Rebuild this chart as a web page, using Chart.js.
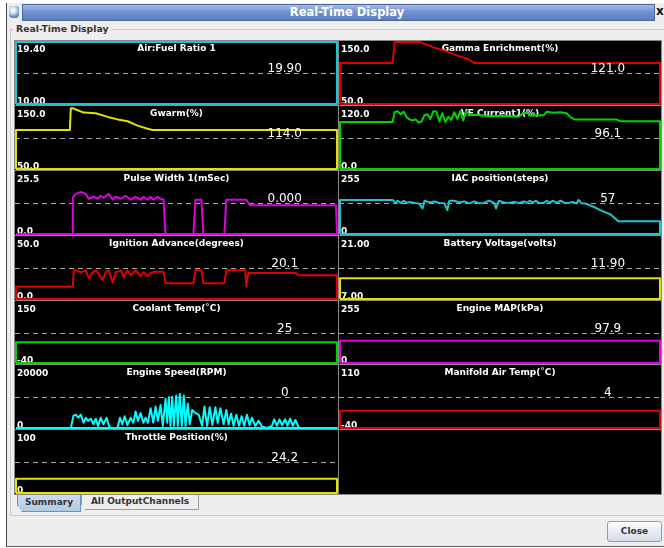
<!DOCTYPE html>
<html><head><meta charset="utf-8"><title>Real-Time Display</title>
<script src="https://cdn.jsdelivr.net/npm/chart.js@4.4.1/dist/chart.umd.min.js"></script>
<style>
html,body{margin:0;padding:0;background:#fff}
body{width:664px;height:548px;position:relative;overflow:hidden;font-family:"DejaVu Sans",sans-serif}
.a{position:absolute;box-sizing:border-box}
#frame{left:6px;top:3px;width:658px;height:544px;background:#eeeeee;border-left:1px solid #404040;border-bottom:1px solid #606060}
#icon{left:9px;top:6px;width:10px;height:12px;border-radius:3px 3px 4px 4px;background:radial-gradient(circle at 40% 35%,#ffffff 0,#c9dbf2 35%,#5f86c4 70%,#3a5c96 100%)}
#tbar{left:22px;top:4px;width:633px;height:17px;background:linear-gradient(#a4bde6,#7093d0 45%,#5a7ec1);border:1px solid #4a679c}
#ttext{left:247px;top:5px;width:200px;text-align:center;color:#fff;font-weight:bold;font-size:11.5px;line-height:15px;white-space:nowrap}
#tx{left:656px;top:4px;color:#111;font-weight:bold;font-size:12px;line-height:15px}
#tborder{left:10px;top:29px;width:660px;height:487px;border:1px solid #c3ccd8}
#plabel{left:14px;top:23px;padding:0 2px;background:#eeeeee;color:#333;font-weight:bold;font-size:9.3px;line-height:12px;white-space:nowrap}
#grid{left:14px;top:40px;width:648px;height:455px;background:#8a8a8a}
.cell{background:#000}
.tab{top:495px;font-weight:bold;font-size:9px;color:#333;text-align:center;white-space:nowrap}
#tab1{left:17px;width:64px;height:17px;line-height:15px;background:linear-gradient(#c9dbef,#b3cbe5);border:1px solid #6f8fc0;border-top:none;clip-path:polygon(0 0,100% 0,100% 100%,5px 100%,0 60%)}
#tab2{left:81px;width:118px;height:15px;line-height:13px;background:#eeeeee;border:1px solid #a0a0a0;border-top:none;clip-path:polygon(0 0,100% 0,100% 100%,4px 100%,0 65%)}
#close{left:607px;top:521px;width:55px;height:21px;border:1px solid #8d9bb0;border-radius:3px;background:linear-gradient(#ffffff,#e6edf4 50%,#d3dde8);font-weight:bold;font-size:9px;color:#333;text-align:center;line-height:19px}
</style></head><body>
<div id="frame" class="a"></div>
<div id="icon" class="a"></div>
<div id="tbar" class="a"></div>
<div id="ttext" class="a">Real-Time Display</div>
<div id="tx" class="a">x</div>
<div id="tborder" class="a"></div>
<div id="plabel" class="a">Real-Time Display</div>
<div id="grid" class="a"></div>
<div id="tab1" class="a tab">Summary</div>
<div id="tab2" class="a tab">All OutputChannels</div>
<div id="close" class="a">Close</div>
<script>
// ---- gauge descriptions ----
const titles = ["Air:Fuel Ratio 1","Gamma Enrichment(%)","Gwarm(%)","VE Current1(%)","Pulse Width 1(mSec)","IAC position(steps)","Ignition Advance(degrees)","Battery Voltage(volts)","Coolant Temp(\u02DAC)","Engine MAP(kPa)","Engine Speed(RPM)","Manifold Air Temp(\u02DAC)","Throttle Position(%)"];
const maxLabels = ["19.40","150.0","150.0","120.0","25.5","255","50.0","21.00","150","255","20000","110","100"];
const minLabels = ["10.00","50.0","50.0","0.0","0.0","0","0.0","7.00","-40","0","0","-40","0"];
const currentLabels = ["19.90","121.0","114.0","96.1","0.000","57","20.1","11.90","25","97.9","0","4","24.2"];
const rangeMin = [10,50,50,0,0,0,0,7,-40,0,0,-40,0];
const rangeMax = [19.4,150,150,120,25.5,255,50,21,150,255,20000,110,100];

// ---- trace samples (time index, value) ----
const afrTime = [0,322];
const afrValues = [19.9,19.9];
const gammaTime = [0,53,55,80,95,105,118,128,135,322];
const gammaValues = [116,116,150,150,141,136,128,123,116,116];
const gwarmTime = [0,54,55,57,60,68,80,92,102,112,122,132,137,322];
const gwarmValues = [113,113,148,148,146,141,140,134,130,127,120,115,113,113];
const veTime = [0,53,55,58,61,64,67,70,73,76,79,82,85,88,91,94,97,100,103,106,109,112,115,118,121,124,127,131,136,150,165,180,184,188,192,200,205,208,215,222,228,232,236,278,282,322];
const veValues = [91,91,110,112,106,111,100,96,94,96,90,92,104,106,97,112,111,92,108,91,101,95,110,97,112,94,112,104,105,102,103,101,108,109,103,104,104,111,109,110,108,100,96,96,92.5,92.5];
const pwTime = [0,57,57,60,65,70,73,78,82,85,88,93,97,100,105,110,115,120,125,128,132,135,138,142,145,148,150,178,180,186,188,209,211,231,235,272,273,274,321,322];
const pwValues = [0,0,15,16.5,17.3,16.5,14.5,15.3,14.5,15.7,14.9,16.5,14.1,15.3,14.5,15.7,14.1,15.3,14.1,15.3,14.1,15.3,14.1,15.3,14.5,14.1,0,0,14.1,14.1,0,0,14.1,14.1,11.8,11.8,12.3,11.8,11.8,0];
const iacTime = [0,53,56,58,61,64,67,70,75,80,83,85,90,95,100,105,108,110,115,120,125,130,135,140,145,150,155,157,160,165,170,175,180,185,188,191,194,197,200,205,208,211,214,218,222,226,230,234,238,240,243,248,255,262,272,280,322];
const iacValues = [140,140,128,137,128,137,128,132,128,124,105,137,130,134,128,126,98,137,137,130,134,126,134,126,128,137,128,105,137,130,128,132,128,134,128,137,128,137,128,128,137,128,137,128,137,128,128,132,126,140,126,124,112,98,81,52,52];
const ignTime = [0,57,58,60,65,70,73,77,80,83,87,90,93,97,100,105,108,112,115,120,125,128,132,135,140,145,148,150,178,180,186,188,209,211,230,231,233,281,283,322];
const ignValues = [9.8,9.8,23.1,23.1,21.5,23.1,16.9,21.5,23.1,20,15.4,21.5,23.1,13.1,21.5,23.1,17.7,23.1,19.2,23.1,18.5,21.5,18.5,21,22,22,22,12.8,12.8,23.1,23.1,12.8,12.8,23.1,23.1,10.2,21,21,19.2,19.2];
const battTime = [0,322];
const battValues = [11.7,11.7];
const cltTime = [0,322];
const cltValues = [25,25];
const mapTime = [0,322];
const mapValues = [93,93];
const rpmTime = [0,55,57.7,60,62.3,65,67.7,70,72.3,75,77.7,80,82.3,85,87.7,91,93.3,95,101.7,104.3,106.7,109,111.7,115,117.7,120,122.3,125,127.7,130,132.3,135,137.7,140,142.3,145,147.3,150,151.7,153.3,155,156.7,158.3,160.7,162.3,164.3,166.3,168.3,170,172.3,174.3,176.7,180,183.3,186.7,189,191.7,194.3,197,200,202.3,205,208.3,211,213.3,215.7,218.3,221,223.7,226.3,229,231.7,234.3,236.7,240,243.3,246.7,251.7,256.7,259,261.7,264.3,267,270,272.3,275,277.7,280.3,283,285,322];
const rpmValues = [0,0,4000,4300,3300,4300,1700,3300,2300,3000,1200,3000,700,3300,1200,3300,700,0,0,3300,1200,3800,900,3300,1700,5300,2300,4800,1700,3300,1700,6400,1700,6900,2300,7400,700,9400,1700,9900,700,10100,700,10500,700,11000,700,10500,700,7900,1200,5800,4800,4300,700,6900,700,6700,900,6700,1700,6400,1200,5800,1200,4600,700,4300,700,3800,700,4300,900,3300,700,2300,500,0,700,2800,700,2800,900,2800,700,3000,700,2600,500,0,0];
const matTime = [0,322];
const matValues = [2,2];
const tpsTime = [0,322];
const tpsValues = [23,23];

const seriesTime = [afrTime,gammaTime,gwarmTime,veTime,pwTime,iacTime,ignTime,battTime,cltTime,mapTime,rpmTime,matTime,tpsTime];
const seriesValues = [afrValues,gammaValues,gwarmValues,veValues,pwValues,iacValues,ignValues,battValues,cltValues,mapValues,rpmValues,matValues,tpsValues];
const timeSpan = 322;

// ---- styles (kept apart from the data) ----
const traceColors = ["#1cc6cf","#e00000","#e2e200","#00d400","#e000e0","#1cc6cf","#e00000","#e2e200","#00d400","#e000e0","#00ffff","#e00000","#e2e200"];

const overlay = {
  id: 'overlay',
  beforeDatasetsDraw(chart, args, o) {
    const ctx = chart.ctx, w = chart.width, h = chart.height;
    const y = Math.round(chart.scales.y.getPixelForValue((o.min + o.max) / 2)) + 0.5;
    ctx.save();
    ctx.strokeStyle = '#a8a8a8'; ctx.lineWidth = 1; ctx.setLineDash([5, 4]);
    ctx.beginPath(); ctx.moveTo(0, y); ctx.lineTo(w, y); ctx.stroke();
    ctx.setLineDash([]);
    ctx.fillStyle = '#ffffff';
    ctx.font = 'bold 9px "DejaVu Sans"';
    ctx.textBaseline = 'alphabetic';
    ctx.textAlign = 'center'; ctx.fillText(o.title, w / 2, 10);
    ctx.textAlign = 'left';
    ctx.fillText(o.maxLabel, 2, 11);
    ctx.fillText(o.minLabel, 2, h - 1);
    ctx.restore();
  },
  afterDatasetsDraw(chart, args, o) {
    const ctx = chart.ctx, w = chart.width;
    ctx.save();
    ctx.fillStyle = '#ffffff';
    ctx.font = '12px "DejaVu Sans"';
    ctx.textAlign = 'center'; ctx.textBaseline = 'alphabetic';
    ctx.fillText(o.current, w * 0.835, 31);
    ctx.restore();
  }
};

const sepY = [40,105,170,235,300,364,429,494];
const sepX = [14,338,661];
for (let r = 0; r < 7; r++) {
  for (let c = 0; c < 2; c++) {
    const i = r * 2 + c;
    const left = sepX[c] + 1, width = sepX[c + 1] - sepX[c] - 1;
    const top = sepY[r] + 1, height = sepY[r + 1] - sepY[r] - 1;
    const cell = document.createElement('div');
    cell.className = 'a cell';
    cell.style.cssText = `left:${left}px;top:${top}px;width:${width}px;height:${height}px`;
    document.body.appendChild(cell);
    if (i >= titles.length) continue;
    const cv = document.createElement('canvas');
    cv.width = width; cv.height = height;
    cv.style.cssText = `position:absolute;left:0;top:0;width:${width}px;height:${height}px`;
    cell.appendChild(cv);
    const lo = rangeMin[i], hi = rangeMax[i];
    const clamp = v => Math.max(lo, Math.min(hi, v));
    const t = seriesTime[i], v = seriesValues[i];
    const pts = [{x: t[0], y: lo}];
    for (let k = 0; k < t.length; k++) pts.push({x: t[k], y: clamp(v[k])});
    pts.push({x: t[t.length - 1], y: lo});
    pts.push({x: t[0], y: lo});
    new Chart(cv, {
      type: 'line',
      data: { datasets: [{ data: pts, borderColor: traceColors[i], borderWidth: 2, pointRadius: 0, tension: 0, fill: false, borderJoinStyle: 'round', clip: false }] },
      options: {
        responsive: false, animation: false, devicePixelRatio: 1,
        layout: { padding: 1 },
        events: [],
        plugins: {
          legend: { display: false }, tooltip: { enabled: false }, title: { display: false },
          overlay: { title: titles[i], maxLabel: maxLabels[i], minLabel: minLabels[i], current: currentLabels[i], min: lo, max: hi }
        },
        scales: {
          x: { type: 'linear', min: 0, max: timeSpan, display: false },
          y: { type: 'linear', min: lo, max: hi, display: false }
        }
      },
      plugins: [overlay]
    });
  }
}
</script>
</body></html>
